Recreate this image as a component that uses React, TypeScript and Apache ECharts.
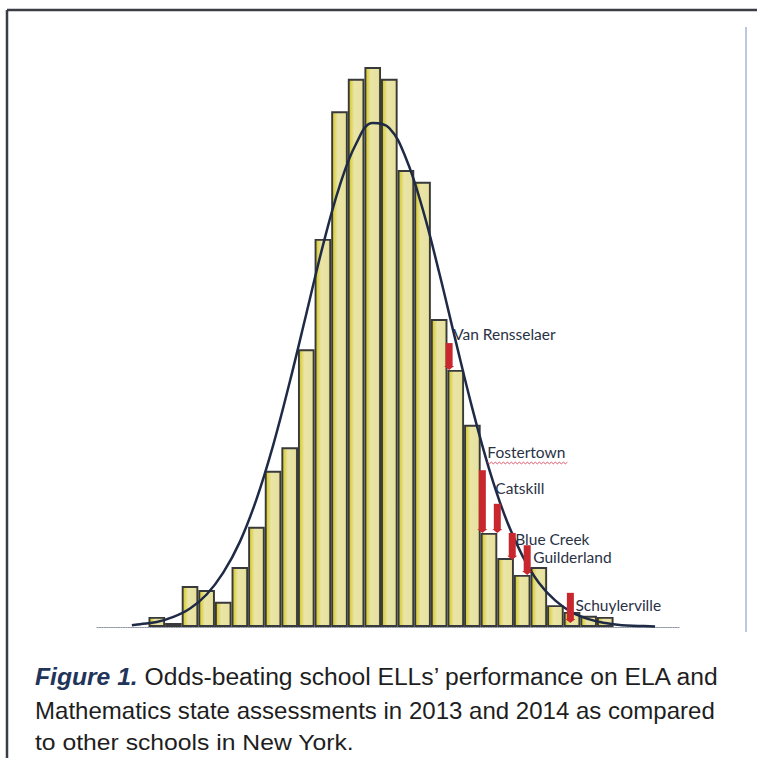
import React, { useEffect, useRef } from "react";
import * as echarts from "echarts";

// Histogram bins (index) and heights (relative frequency, tallest bin = 100)
const binIndex = [0, 1, 2, 3, 4, 5, 6, 7, 8, 9, 10, 11, 12, 13, 14, 15, 16, 17, 18, 19, 20, 21, 22, 23, 24, 25, 26, 27];
const binHeights = [1.8, 0.7, 7.3, 6.6, 4.5, 10.7, 17.9, 27.9, 32.1, 49.6, 69.3, 92.1, 97.9, 100, 97.9, 81.6, 79.5, 55, 45.9, 36.1, 16.8, 12.3, 9.3, 10.7, 3.9, 2.7, 2.0, 1.8];

// Fitted normal curve
const curveX = [-1.5, -1, 0, 1, 2, 3, 4, 5, 6, 7, 8, 9, 10, 11, 12, 13, 14, 15, 16, 17, 18, 19, 20, 21, 22, 23, 24, 25, 26, 27, 28, 29, 30];
const curveY = [0.3, 0.5, 0.9, 1.8, 3.3, 5.8, 9.7, 15.2, 22.8, 32.4, 43.7, 55.9, 68.1, 78.7, 86.3, 90.0, 89.1, 83.7, 74.7, 63.3, 51.0, 39.0, 28.3, 19.5, 12.8, 7.9, 4.7, 2.6, 1.4, 0.7, 0.3, 0.2, 0.1];

// Odds-beating schools: position, marker bottom and top
const schoolNames = ["Van Rensselaer", "Fostertown", "Catskill", "Blue Creek", "Guilderland", "Schuylerville"];
const schoolX = [17.6, 19.6, 20.5, 21.4, 22.3, 24.9];
const schoolLow = [45.9, 16.8, 16.8, 12.0, 9.3, 0.7];
const schoolHigh = [50.7, 28.0, 22.0, 16.8, 14.6, 6.1];

// Caption lines
const captionLines = [
  "{f|Figure 1.} Odds-beating school ELLs\u2019 performance on ELA and",
  "Mathematics state assessments in 2013 and 2014 as compared",
  "to other schools in New York.",
];

// label layout offsets relative to marker top (px)
const labelOffsets = [
  [4, -9],
  [5, -18],
  [-2, -16],
  [3, 6],
  [6, 12],
  [5, 12],
];

export default function App() {
  const ref = useRef<HTMLDivElement>(null);
  useEffect(() => {
    document.body.style.margin = "0";
    document.body.style.background = "#ffffff";
    if (!ref.current) return;
    const chart = echarts.init(ref.current, null, { renderer: "svg" });
    const red = "#c9272e";
    const option: any = {
      animation: false,
      backgroundColor: "#ffffff",
      grid: { left: 97, right: 77, top: 67, bottom: 131 },
      xAxis: {
        type: "value",
        min: -3.6,
        max: 31.5,
        axisLine: { show: true, lineStyle: { color: "#8d95a2", width: 1.2, type: "dotted" } },
        axisTick: { show: false },
        axisLabel: { show: false },
        splitLine: { show: false },
      },
      yAxis: {
        type: "value",
        min: 0,
        max: 100,
        axisLine: { show: false },
        axisTick: { show: false },
        axisLabel: { show: false },
        splitLine: { show: false },
      },
      series: [
        {
          type: "bar",
          data: binIndex.map((b, i) => [b, binHeights[i]]),
          barWidth: 16.6,
          z: 2,
          itemStyle: {
            color: {
              type: "linear",
              x: 0, y: 0, x2: 1, y2: 0,
              colorStops: [
                { offset: 0, color: "#d2c51c" },
                { offset: 0.2, color: "#e0d766" },
                { offset: 0.38, color: "#eae5a8" },
                { offset: 0.85, color: "#e7e2a0" },
                { offset: 1, color: "#dad26a" },
              ],
            },
            borderColor: "#38393a",
            borderWidth: 1.9,
          },
        },
        {
          type: "line",
          data: curveX.map((x, i) => [x, curveY[i]]),
          smooth: 0.4,
          symbol: "none",
          z: 3,
          lineStyle: { color: "#1f2b46", width: 2.5 },
        },
        {
          type: "custom",
          z: 4,
          data: schoolX.map((x, i) => [x, schoolLow[i], schoolHigh[i]]),
          encode: { x: 0, y: [1, 2] },
          renderItem: (params: any, api: any) => {
            const i = params.dataIndex;
            const t = api.value(0);
            const top = api.coord([t, api.value(2)]);
            const bot = api.coord([t, api.value(1)]);
            const w = 7;
            const off = labelOffsets[i];
            const lx = top[0] + off[0];
            const ly = top[1] + off[1];
            const children: any[] = [
              {
                type: "rect",
                shape: { x: top[0] - w / 2, y: top[1], width: w, height: Math.max(1, bot[1] - top[1] - 3) },
                style: { fill: red },
              },
              {
                type: "polygon",
                shape: { points: [[top[0] - 5, bot[1] - 4], [top[0] + 5, bot[1] - 4], [top[0], bot[1]]] },
                style: { fill: red },
              },
              {
                type: "text",
                x: lx,
                y: ly,
                style: {
                  text: schoolNames[i],
                  fill: "#2a3145",
                  fontSize: 15.5,
                  fontFamily: "Lato",
                  align: "left",
                  verticalAlign: "middle",
                },
              },
            ];
            if (schoolNames[i] === "Fostertown") {
              const pts: number[][] = [];
              for (let k = 0; k <= 40; k++) {
                pts.push([lx + k * 2, ly + 10 + (k % 2 === 0 ? 0 : 1.6)]);
              }
              children.push({
                type: "polyline",
                shape: { points: pts },
                style: { stroke: "#d4455a", lineWidth: 0.9, fill: null },
              });
            }
            return { type: "group", children };
          },
        },
      ],
      graphic: [
        { type: "line", shape: { x1: 7, y1: 10, x2: 757, y2: 10 }, style: { stroke: "#3b3d44", lineWidth: 2.5 } },
        { type: "line", shape: { x1: 7, y1: 10, x2: 7, y2: 758 }, style: { stroke: "#3b3d44", lineWidth: 2.5 } },
        { type: "line", shape: { x1: 746, y1: 27, x2: 746, y2: 632 }, style: { stroke: "#7b8fc0", lineWidth: 1 } },
        ...captionLines.map((line, i) => ({
          type: "text",
          x: 35,
          y: [677, 711, 742][i],
          scaleX: [1.072, 1.045, 1.075][i],
          style: {
            text: line,
            fontSize: 23,
            fontFamily: "Liberation Sans",
            fill: "#1e1e22",
            verticalAlign: "middle",
            align: "left",
            rich: {
              f: {
                fontSize: 23,
                fontFamily: "Liberation Sans",
                fontWeight: "bold",
                fontStyle: "italic",
                fill: "#23345a",
              },
            },
          },
        })),
      ],
    };
    chart.setOption(option);
    return () => chart.dispose();
  }, []);
  return <div ref={ref} style={{ width: 757, height: 758 }} />;
}
